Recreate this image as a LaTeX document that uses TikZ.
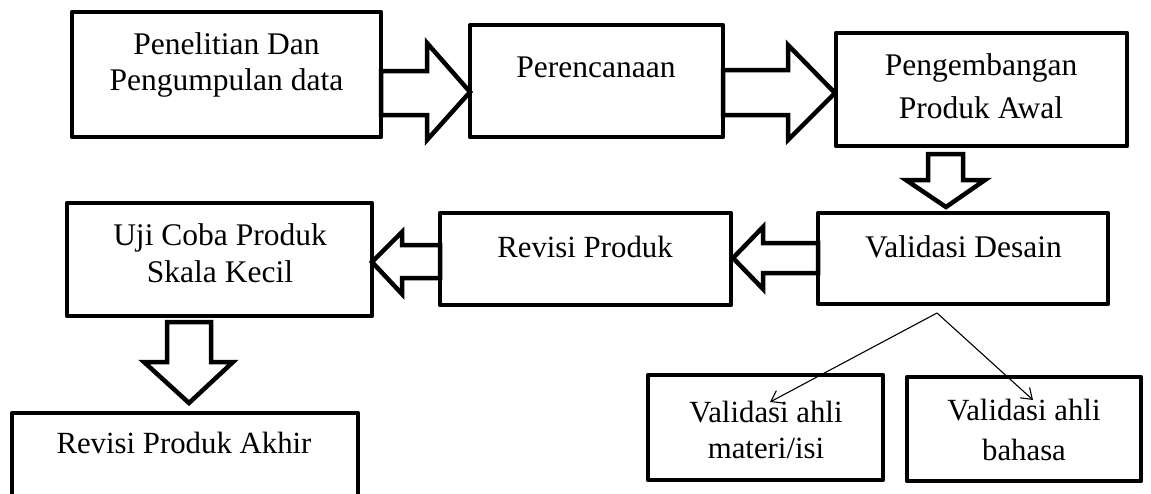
\documentclass[tikz,border=0pt]{standalone}
\usepackage{fontspec}
\setmainfont{Liberation Serif}
\usetikzlibrary{arrows.meta,calc}
\begin{document}
\begin{tikzpicture}[x=1pt,y=-1pt,
  box/.style={draw,line width=4.5pt,inner sep=0pt,outer sep=0pt,line join=round},
  txt/.style={inner sep=0pt,anchor=base,align=center,font=\fontsize{31.5}{36}\selectfont},
  stxt/.style={txt,font=\fontsize{30.8}{36}\selectfont},
  barrow/.style={draw,fill=white,line width=4.5pt,line join=miter,miter limit=10},
  thinarrow/.style={line width=1.1pt,-{Straight Barb[length=10pt,width=14pt]}}]
\useasboundingbox (0,0) rectangle (1151,493);
% boxes
\node[box,minimum width=309pt,minimum height=125pt] (b1) at (226.5,74.5) {};
\node[box,minimum width=253pt,minimum height=112pt] (b2) at (596.5,81) {};
\node[box,minimum width=291pt,minimum height=113pt] (b3) at (981.5,89.5) {};
\node[box,minimum width=290pt,minimum height=91pt] (b4) at (963,258.5) {};
\node[box,minimum width=291pt,minimum height=92pt] (b5) at (585.5,259) {};
\node[box,minimum width=305pt,minimum height=113pt] (b6) at (219.5,259.5) {};
\node[box,minimum width=346pt,minimum height=90pt] (b7) at (185,458) {};
\node[box,minimum width=235pt,minimum height=105pt] (b8) at (765.5,427.5) {};
\node[box,minimum width=234pt,minimum height=104pt] (b9) at (1024,429) {};
% texts (base anchor = last line)
\node[txt] (t1) at (226.5,90) {Penelitian Dan\\Pengumpulan data};
\node[txt] (t2) at (596,77) {Perencanaan};
\node[txt,font=\fontsize{31.5}{43}\selectfont] (t3) at (981,118) {Pengembangan\\Produk Awal};
\node[txt] (t4) at (963.5,257) {Validasi Desain};
\node[stxt] (t5) at (585,257) {Revisi Produk};
\node[txt,font=\fontsize{31.5}{37}\selectfont] (t6) at (220,282) {Uji Coba Produk\\Skala Kecil};
\node[stxt] (t7) at (184,453) {Revisi Produk Akhir};
\node[stxt] (t8) at (766,458) {Validasi ahli\\materi/isi};
\node[stxt,font=\fontsize{30.8}{40}\selectfont] (t9) at (1024,460) {Validasi ahli\\bahasa};
% block arrows
\draw[barrow] (381,71) -- (427,71) -- (427,43) -- (470,92) -- (427,140) -- (427,115) -- (381,115) -- cycle;
\draw[barrow] (723,70) -- (788,70) -- (788,45) -- (835,93) -- (788,140) -- (788,115) -- (723,115) -- cycle;
\draw[barrow] (928,154) -- (963,154) -- (963,180) -- (985,180) -- (946,207) -- (906,180) -- (928,180) -- cycle;
\draw[barrow] (818,243) -- (763,243) -- (763,227) -- (733,258) -- (763,289) -- (763,273) -- (818,273) -- cycle;
\draw[barrow] (440,245) -- (402,245) -- (402,232) -- (372,262) -- (402,294) -- (402,278) -- (440,278) -- cycle;
\draw[barrow] (167,322) -- (211,322) -- (211,362) -- (233,362) -- (189,403) -- (144,362) -- (167,362) -- cycle;
% thin arrows
\coordinate (split) at (937,313);
\coordinate (e1) at (770,402);
\coordinate (e2) at (1033,400);
\draw[thinarrow] (split) -- (e1);
\draw[thinarrow] (split) -- (e2);
\end{tikzpicture}
\end{document}
